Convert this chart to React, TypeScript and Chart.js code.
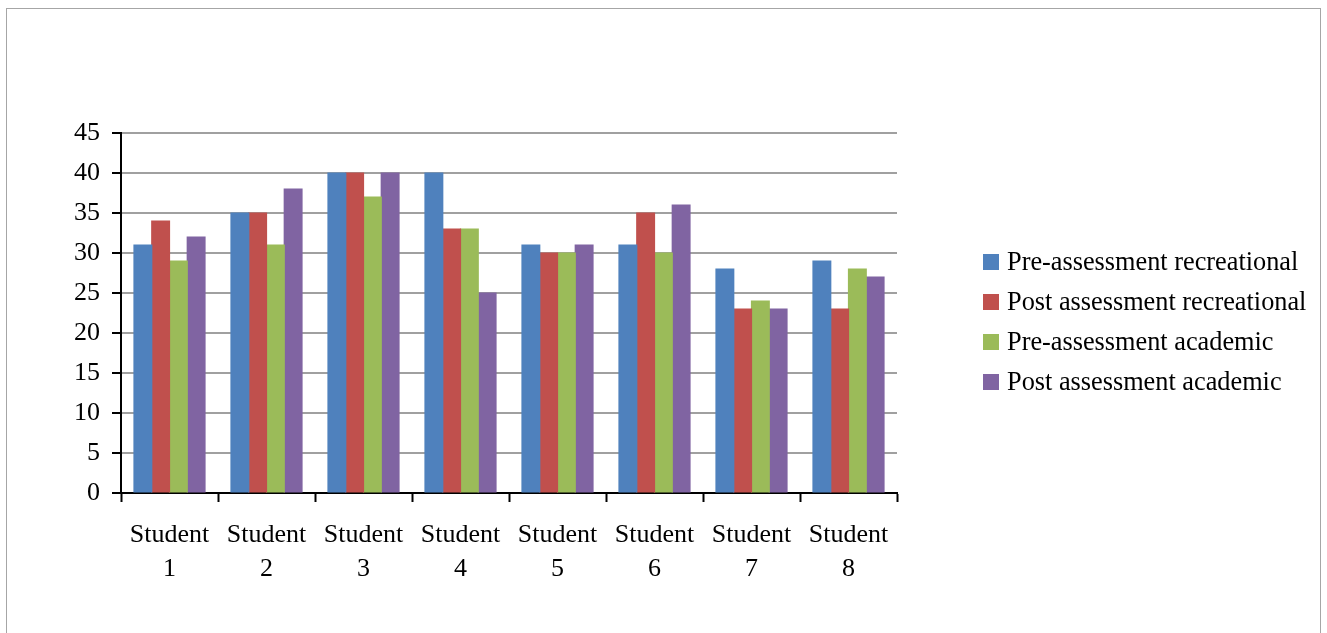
import React, { useEffect, useRef } from "react";
import { Chart, registerables } from "chart.js";

Chart.register(...registerables);

const categories: string[][] = [
  ["Student", "1"],
  ["Student", "2"],
  ["Student", "3"],
  ["Student", "4"],
  ["Student", "5"],
  ["Student", "6"],
  ["Student", "7"],
  ["Student", "8"],
];

const seriesNames = [
  "Pre-assessment recreational",
  "Post assessment recreational",
  "Pre-assessment academic",
  "Post assessment academic",
];

const preRecreational = [31, 35, 40, 40, 31, 31, 28, 29];
const postRecreational = [34, 35, 40, 33, 30, 35, 23, 23];
const preAcademic = [29, 31, 37, 33, 30, 30, 24, 28];
const postAcademic = [32, 38, 40, 25, 31, 36, 23, 27];

const seriesColors = ["#4F81BD", "#C0504D", "#9BBB59", "#8064A2"];

const yMin = 0;
const yMax = 45;
const yStep = 5;

const FONT = "'Liberation Serif', 'Times New Roman', serif";

export default function App() {
  const ref = useRef<HTMLCanvasElement | null>(null);

  useEffect(() => {
    if (!ref.current) return;
    const values = [preRecreational, postRecreational, preAcademic, postAcademic];
    const chart = new Chart(ref.current, {
      type: "bar",
      data: {
        labels: categories,
        datasets: values.map((v, i) => ({
          label: seriesNames[i],
          data: v,
          backgroundColor: seriesColors[i],
          borderWidth: 0,
          inflateAmount: 0.6,
          barPercentage: 1,
          categoryPercentage: 0.732,
        })),
      },
      options: {
        responsive: false,
        animation: false,
        devicePixelRatio: 1,
        layout: { padding: { left: 0, right: 423, top: 124, bottom: 40 } },
        plugins: { legend: { display: false }, tooltip: { enabled: false } },
        scales: {
          x: {
            afterFit: (scale: any) => {
              scale.height = 100;
            },
            grid: {
              drawOnChartArea: false,
              offset: true,
              drawTicks: true,
              tickLength: 9,
              tickColor: "#000",
              tickWidth: 2,
            },
            border: { display: true, color: "#000", width: 2 },
            ticks: {
              color: "#000",
              font: { family: FONT, size: 26, lineHeight: 1.3 },
              padding: 16,
              maxRotation: 0,
              autoSkip: false,
            },
          },
          y: {
            min: yMin,
            max: yMax,
            afterFit: (scale: any) => {
              scale.width = 114;
            },
            grid: {
              color: "#a0a0a0",
              lineWidth: 2,
              drawTicks: true,
              tickLength: 9,
              tickColor: "#000",
              tickWidth: 2,
            },
            border: { display: true, color: "#000", width: 2 },
            ticks: {
              stepSize: yStep,
              color: "#000",
              font: { family: FONT, size: 26 },
              padding: 12,
            },
          },
        },
      },
    });
    return () => chart.destroy();
  }, []);

  return (
    <div
      style={{
        position: "fixed",
        left: 6,
        top: 8,
        width: 1313,
        height: 625,
        borderTop: "1px solid #a6a6a6",
        borderLeft: "1px solid #a6a6a6",
        borderRight: "1px solid #a6a6a6",
        background: "#fff",
      }}
    >
      <canvas ref={ref} width={1313} height={624} style={{ width: 1313, height: 624, display: "block" }} />
      <div style={{ position: "absolute", left: 976, top: 233, fontFamily: FONT, fontSize: 26.3, color: "#000" }}>
        {seriesNames.map((n, i) => (
          <div key={n} style={{ display: "flex", alignItems: "center", height: 40, whiteSpace: "nowrap" }}>
            <span style={{ display: "inline-block", width: 16, height: 16, background: seriesColors[i], marginRight: 8 }} />
            <span style={{ lineHeight: "40px" }}>{n}</span>
          </div>
        ))}
      </div>
    </div>
  );
}
